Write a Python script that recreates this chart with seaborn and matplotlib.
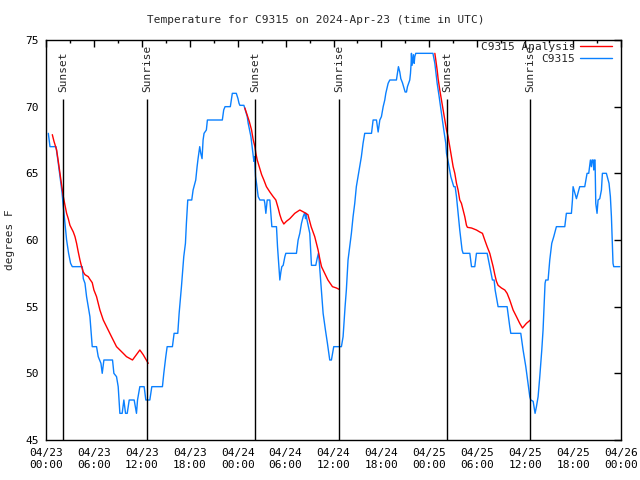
import matplotlib
matplotlib.use("Agg")
import matplotlib.pyplot as plt
import matplotlib.dates as mdates
from matplotlib.lines import Line2D
import seaborn as sns
import pandas as pd

# DATA (hours after 2024-04-23 00:00 UTC, degrees F)
blue_hours = [0.29, 0.5, 1.25, 1.54, 1.75, 2.0, 2.17, 2.38, 2.58, 2.83, 3.08, 3.29, 4.54, 4.67, 4.88, 5.08,
              5.29, 5.5, 5.63, 5.79, 6.33, 6.54, 6.88, 7.04, 7.25, 8.33, 8.5, 8.83, 9.04, 9.17, 9.25, 9.54,
              9.75, 9.96, 10.17, 10.42, 11.04, 11.33, 11.46, 11.75, 12.29, 12.5, 13.0, 13.25, 14.58, 14.75,
              15.0, 15.17, 15.83, 16.04, 16.5, 16.67, 16.96, 17.25, 17.46, 17.58, 17.75, 18.25, 18.42, 18.75,
              18.92, 19.04, 19.25, 19.38, 19.54, 19.67, 19.79, 20.08, 20.21, 22.08, 22.25, 22.42, 23.08, 23.33,
              23.83, 24.04, 24.17, 24.28, 24.78, 25.2, 25.32, 25.66, 25.86, 26.03, 26.11, 26.24, 26.36, 26.57,
              26.78, 27.32, 27.4, 27.53, 27.7, 28.03, 28.16, 28.28, 28.86, 28.99, 29.11, 29.28, 29.41, 29.53,
              29.7, 29.91, 30.03, 31.36, 31.57, 31.78, 31.99, 32.2, 32.4, 32.5, 32.57, 32.65, 32.82, 33.03,
              33.16, 33.24, 33.78, 33.95, 34.11, 34.2, 34.36, 34.49, 34.7, 34.99, 35.24, 35.53, 35.74, 36.03,
              36.99, 37.2, 37.45, 37.61, 37.82, 38.03, 38.24, 38.45, 38.66, 38.86, 39.07, 39.28, 39.49, 39.7,
              39.91, 40.76, 40.96, 41.38, 41.59, 41.8, 42.0, 42.22, 42.42, 42.55, 42.84, 43.05, 43.88, 44.01,
              44.13, 44.3, 44.43, 44.63, 44.97, 45.14, 45.26, 45.55, 45.64, 45.72, 45.76, 45.84, 45.93, 46.01,
              46.1, 46.18, 46.3, 48.45, 48.69, 48.98, 49.23, 49.52, 49.81, 50.06, 50.15, 50.4, 50.69, 51.06,
              51.23, 51.4, 51.65, 51.81, 52.1, 52.23, 53.07, 53.28, 53.69, 53.9, 55.24, 55.57, 55.9, 56.11,
              56.24, 56.61, 57.74, 58.07, 58.2, 59.45, 59.74, 60.08, 60.41, 60.58, 60.7, 61.0, 61.24, 61.41,
              61.62, 61.83, 62.08, 62.24, 62.49, 62.58, 62.87, 63.08, 63.33, 63.58, 63.91, 64.96, 65.16, 65.79,
              65.92, 66.0, 66.12, 66.42, 66.83, 67.46, 67.75, 67.96, 68.17, 68.29, 68.38, 68.5, 68.59, 68.67,
              68.75, 68.84, 69.0, 69.13, 69.34, 69.55, 69.67, 70.17, 70.5, 70.67, 70.8, 70.88, 71.0, 71.09, 71.84]
blue_temps = [68, 67, 67, 65.75, 64.75, 63.6, 62.5, 61.25, 60, 59, 58.25, 58, 58, 57.1, 56.75, 55.75,
              55, 54.25, 53.25, 52, 52, 51.25, 50.75, 50, 51, 51, 50, 49.75, 49, 47.75, 47, 47,
              48, 47, 47, 48, 48, 47, 48, 49, 49, 48, 48, 49, 49, 50,
              51.25, 52, 52, 53, 53, 54.5, 56.5, 58.75, 59.75, 61.25, 63, 63, 63.75, 64.5,
              65.5, 66.1, 67, 66.5, 66.1, 67.5, 68, 68.25, 69, 69, 69.75, 70, 70, 71,
              71, 70.6, 70.25, 70.1, 70.1, 69.25, 68.75, 67.75, 66.75, 65.9, 66.25, 64.75, 64.25, 63.25,
              63, 63, 62.75, 62, 63, 63, 62, 61, 61, 59.5, 58.5, 57, 57.6, 58,
              58.1, 58.75, 59, 59, 60, 60.5, 61.25, 61.75, 62.05, 61.6, 62, 61.6, 61.1, 60.5,
              59, 58.1, 58.1, 58.6, 59, 58.5, 57.25, 56.25, 54.5, 53.25, 52.25, 51, 51, 52,
              52, 52.75, 55, 56.25, 58.5, 59.5, 60.5, 61.75, 62.75, 64, 64.75, 65.5, 66.25, 67.25,
              68, 68, 69, 69, 68.1, 69, 69.25, 70, 70.5, 71, 71.75, 72, 72, 72.5,
              73, 72.6, 72.1, 71.8, 71.1, 71.1, 71.5, 72, 72.5, 73.25, 74, 73.1, 73.5, 73.9,
              73.25, 73.75, 74, 74, 73.25, 71.75, 70.75, 69.5, 68.25, 67.25, 66.5, 65.75, 64.75, 64,
              64, 63.25, 61.75, 60.75, 59.25, 59, 59, 58, 58, 59, 59, 58, 57, 57,
              56.25, 55, 55, 53.5, 53, 53, 51.75, 50.5, 49, 48.25, 48, 47.9, 47, 47.5,
              48.25, 49.75, 51.75, 53.25, 56.75, 57, 57, 58.5, 59.75, 60.25, 61, 61, 62, 62,
              63, 64, 63.75, 63.1, 64, 64, 65, 65, 66, 65.5, 66, 66, 65.25, 66,
              66, 62.75, 62, 63, 63.1, 63.75, 65, 65, 64.25, 63.25, 61.75, 60.25, 58.25, 58, 58]

red1_hours = [0.79, 1.0, 1.33, 1.54, 1.75, 1.96, 2.17, 2.38, 2.58, 2.79, 3.0, 3.42, 3.63, 3.83, 4.04, 4.25,
              4.46, 4.67, 4.88, 5.29, 5.5, 5.79, 6.0, 6.33, 6.75, 7.17, 7.58, 8.2, 8.83, 9.67, 10.08, 10.83,
              11.75, 12.17, 12.8]
red1_temps = [67.9, 67.4, 66.75, 65.9, 65.0, 64.1, 63.25, 62.6, 62.0, 61.6, 61.1, 60.6, 60.25, 59.75, 59.1, 58.5,
              58.0, 57.6, 57.4, 57.25, 57.05, 56.8, 56.25, 55.75, 54.75, 54.0, 53.5, 52.75, 52.0, 51.5, 51.25, 51.0,
              51.75, 51.4, 50.75]
red2_hours = [24.9, 25.45, 25.74, 25.95, 26.16, 26.28, 26.45, 26.7, 27.0, 27.28, 27.6, 28.03, 28.45, 28.78,
              29.07, 29.28, 29.5, 29.78, 30.1, 30.53, 31.15, 31.78, 32.4, 32.8, 33.2, 33.65, 34.07, 34.28,
              34.5, 34.9, 35.3, 35.87, 36.37, 36.7]
red2_temps = [69.9, 68.9, 68.25, 67.5, 67.0, 66.5, 66.0, 65.5, 64.9, 64.5, 64.0, 63.6, 63.25, 63.0,
              62.4, 61.9, 61.5, 61.2, 61.4, 61.6, 62.0, 62.25, 62.05, 61.9, 61.0, 60.25, 59.25, 58.6,
              58.0, 57.5, 57.0, 56.5, 56.4, 56.3]
red3_hours = [48.69, 48.81, 48.98, 49.1, 49.31, 49.52, 49.73, 49.94, 50.15, 50.35, 50.56, 50.77, 50.98, 51.19,
              51.4, 51.6, 51.81, 52.02, 52.23, 52.44, 52.65, 52.77, 53.28, 53.9, 54.32, 54.65, 54.94, 55.24,
              55.57, 55.78, 55.99, 56.2, 56.4, 56.61, 57.03, 57.45, 57.74, 58.07, 58.49, 58.91, 59.32, 59.66,
              60.16, 60.66]
red3_temps = [74.0, 73.5, 72.75, 72.1, 71.25, 70.5, 69.75, 69.0, 68.25, 67.75, 67.0, 66.25, 65.5, 65.0,
              64.25, 63.75, 63.0, 62.75, 62.25, 61.75, 61.1, 60.95, 60.9, 60.75, 60.6, 60.5, 60.0, 59.5,
              59.0, 58.5, 58.0, 57.4, 56.9, 56.6, 56.4, 56.25, 56.0, 55.5, 54.75, 54.25, 53.75, 53.4,
              53.75, 54.0]

event_hours = [2.17, 12.68, 26.2, 36.71, 50.23, 60.6]
event_labels = ["Sunset", "Sunrise", "Sunset", "Sunrise", "Sunset", "Sunrise"]

start = pd.Timestamp("2024-04-23 00:00")


def to_time(hours):
    return start + pd.to_timedelta(hours, unit="h")


sns.set_theme(style="white")
plt.rcParams["font.family"] = ["DejaVu Sans Mono"]

BLUE = "#0a80ff"
RED = "#ff0000"

fig = plt.figure(figsize=(6.4, 4.8), dpi=100)
ax = fig.add_axes([46 / 640, 40 / 480, 575 / 640, 400 / 480])

sns.lineplot(x=to_time(blue_hours), y=blue_temps, ax=ax, color=BLUE, lw=1,
             estimator=None, sort=False)
for hh, tt in [(red1_hours, red1_temps), (red2_hours, red2_temps), (red3_hours, red3_temps)]:
    sns.lineplot(x=to_time(hh), y=tt, ax=ax, color=RED, lw=1, estimator=None, sort=False)

# sunrise / sunset markers
ax.vlines(to_time(event_hours), 45, 70.6, colors="black", lw=1)
for h, lab in zip(event_hours, event_labels):
    ax.text(to_time([h])[0], 71.1, lab, rotation=90, ha="center", va="bottom", fontsize=8)

ax.set_xlim(to_time([0])[0], to_time([72])[0])
ax.set_ylim(45, 75)
ax.set_yticks(range(45, 76, 5))
ax.xaxis.set_major_locator(mdates.HourLocator(byhour=[0, 6, 12, 18]))
ax.xaxis.set_minor_locator(mdates.HourLocator(byhour=[3, 9, 15, 21]))
ax.xaxis.set_major_formatter(mdates.DateFormatter("%m/%d\n%H:%M"))
ax.tick_params(which="both", direction="in", top=True, right=True, colors="black", labelsize=8, width=1)
ax.tick_params(which="major", length=5)
ax.tick_params(axis="x", which="major", pad=6)
ax.tick_params(axis="y", which="major", pad=5)
ax.tick_params(which="minor", length=2.5)
for s in ax.spines.values():
    s.set_color("black")
    s.set_linewidth(1)

ax.set_xlabel("")
ax.set_ylabel("degrees F", fontsize=8)
ax.yaxis.set_label_coords(-31 / 575, 0.5)

fig.text(316 / 640, 1 - 20 / 480, "Temperature for C9315 on 2024-Apr-23 (time in UTC)",
         ha="center", va="center", fontsize=8)

handles = [Line2D([], [], color=RED, lw=1), Line2D([], [], color=BLUE, lw=1)]
ax.legend(handles, ["C9315 Analysis", "C9315"], loc="upper right", bbox_to_anchor=(566 / 575, 0.995),
          frameon=False, markerfirst=False, fontsize=8, handlelength=2.9, handletextpad=0.4,
          labelspacing=0.15, borderpad=0, borderaxespad=0)

fig.savefig("out.png", dpi=100)
